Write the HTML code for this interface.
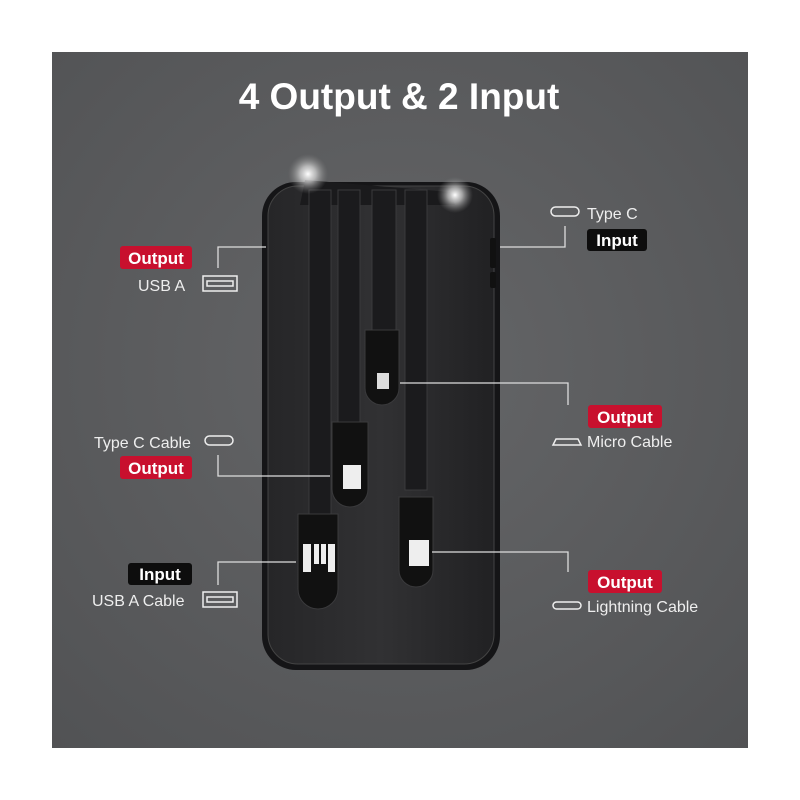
<!DOCTYPE html>
<html><head><style>
body{margin:0;width:800px;height:800px;background:#fff;overflow:hidden}
svg{display:block}
text{font-family:"Liberation Sans",sans-serif}
</style></head><body>
<svg width="800" height="800" viewBox="0 0 800 800">
<defs>
<radialGradient id="bg" cx="0.5" cy="0.45" r="0.75">
<stop offset="0" stop-color="#656668"/><stop offset="1" stop-color="#515254"/>
</radialGradient>
<linearGradient id="body" x1="0" x2="1">
<stop offset="0" stop-color="#262628"/><stop offset="0.5" stop-color="#313133"/><stop offset="1" stop-color="#212123"/>
</linearGradient>
<radialGradient id="glow"><stop offset="0" stop-color="#fff"/><stop offset="0.4" stop-color="#ddd" stop-opacity="0.7"/><stop offset="1" stop-color="#888" stop-opacity="0"/></radialGradient>
</defs>
<rect x="52" y="52" width="696" height="696" fill="url(#bg)"/>
<text x="399" y="109" text-anchor="middle" font-size="37" font-weight="bold" fill="#fff">4 Output &amp; 2 Input</text>
<!-- power bank -->
<rect x="262" y="182" width="238" height="488" rx="34" fill="#151517"/>
<rect x="268" y="186" width="226" height="478" rx="30" fill="url(#body)" stroke="#444" stroke-width="1"/>
<rect x="490" y="238" width="6" height="30" rx="2" fill="#111"/>
<rect x="490" y="272" width="6" height="16" rx="2" fill="#111"/>
<path d="M305 180 L450 192 L455 205 L300 205 Z" fill="#1a1a1c"/>
<g fill="#1b1b1d" stroke="#3a3a3c" stroke-width="1">
<rect x="309" y="190" width="22" height="330"/>
<rect x="338" y="190" width="22" height="240"/>
<rect x="372" y="190" width="24" height="140"/>
<rect x="405" y="190" width="22" height="300"/>
<path d="M365 330 h34 v58 a17 17 0 0 1 -34 0 Z" fill="#111"/>
<path d="M332 422 h36 v67 a18 18 0 0 1 -36 0 Z" fill="#111"/>
<path d="M399 497 h34 v73 a17 17 0 0 1 -34 0 Z" fill="#111"/>
<path d="M298 514 h40 v75 a20 20 0 0 1 -40 0 Z" fill="#111"/>
</g>
<rect x="377" y="373" width="12" height="16" fill="#ddd"/>
<rect x="343" y="465" width="18" height="24" fill="#eee"/>
<rect x="409" y="540" width="20" height="26" fill="#eee"/>
<g fill="#eee"><rect x="303" y="544" width="8" height="28"/><rect x="314" y="544" width="5" height="20"/><rect x="321" y="544" width="5" height="20"/><rect x="328" y="544" width="7" height="28"/></g>
<circle cx="308" cy="174" r="20" fill="url(#glow)"/>
<circle cx="455" cy="195" r="18" fill="url(#glow)"/>
<g stroke="#ddd" stroke-width="1.3" fill="none">
<path d="M218 268 V247 H266"/>
<path d="M500 247 H565 V226"/>
<path d="M400 383 H568 V405"/>
<path d="M218 455 V476 H330"/>
<path d="M296 562 H218 V585"/>
<path d="M432 552 H568 V572"/>
</g>
<g font-size="17" text-anchor="middle" font-weight="bold" fill="#fff">
<rect x="120" y="246" width="72" height="23" rx="3" fill="#c8102e"/><text x="156" y="264">Output</text>
<rect x="587" y="229" width="60" height="22" rx="3" fill="#0d0d0d"/><text x="617" y="246">Input</text>
<rect x="588" y="405" width="74" height="23" rx="3" fill="#c8102e"/><text x="625" y="423">Output</text>
<rect x="120" y="456" width="72" height="23" rx="3" fill="#c8102e"/><text x="156" y="474">Output</text>
<rect x="128" y="563" width="64" height="22" rx="3" fill="#0d0d0d"/><text x="160" y="580">Input</text>
<rect x="588" y="570" width="74" height="23" rx="3" fill="#c8102e"/><text x="625" y="588">Output</text>
</g>
<g font-size="16" fill="#eee">
<text x="138" y="291">USB A</text>
<text x="587" y="219">Type C</text>
<text x="587" y="447">Micro Cable</text>
<text x="94" y="448">Type C Cable</text>
<text x="92" y="606">USB A Cable</text>
<text x="587" y="612">Lightning Cable</text>
</g>
<g stroke="#eee" stroke-width="1.5" fill="none">
<rect x="203" y="276" width="34" height="15"/><rect x="207" y="281" width="26" height="5"/>
<rect x="203" y="592" width="34" height="15"/><rect x="207" y="597" width="26" height="5"/>
<rect x="551" y="207" width="28" height="9" rx="4.5"/>
<rect x="205" y="436" width="28" height="9" rx="4.5"/>
<path d="M553 445 l3 -6 h22 l3 6 Z"/>
<rect x="553" y="602" width="28" height="7" rx="3.5"/>
</g>
</svg>
</body></html>
